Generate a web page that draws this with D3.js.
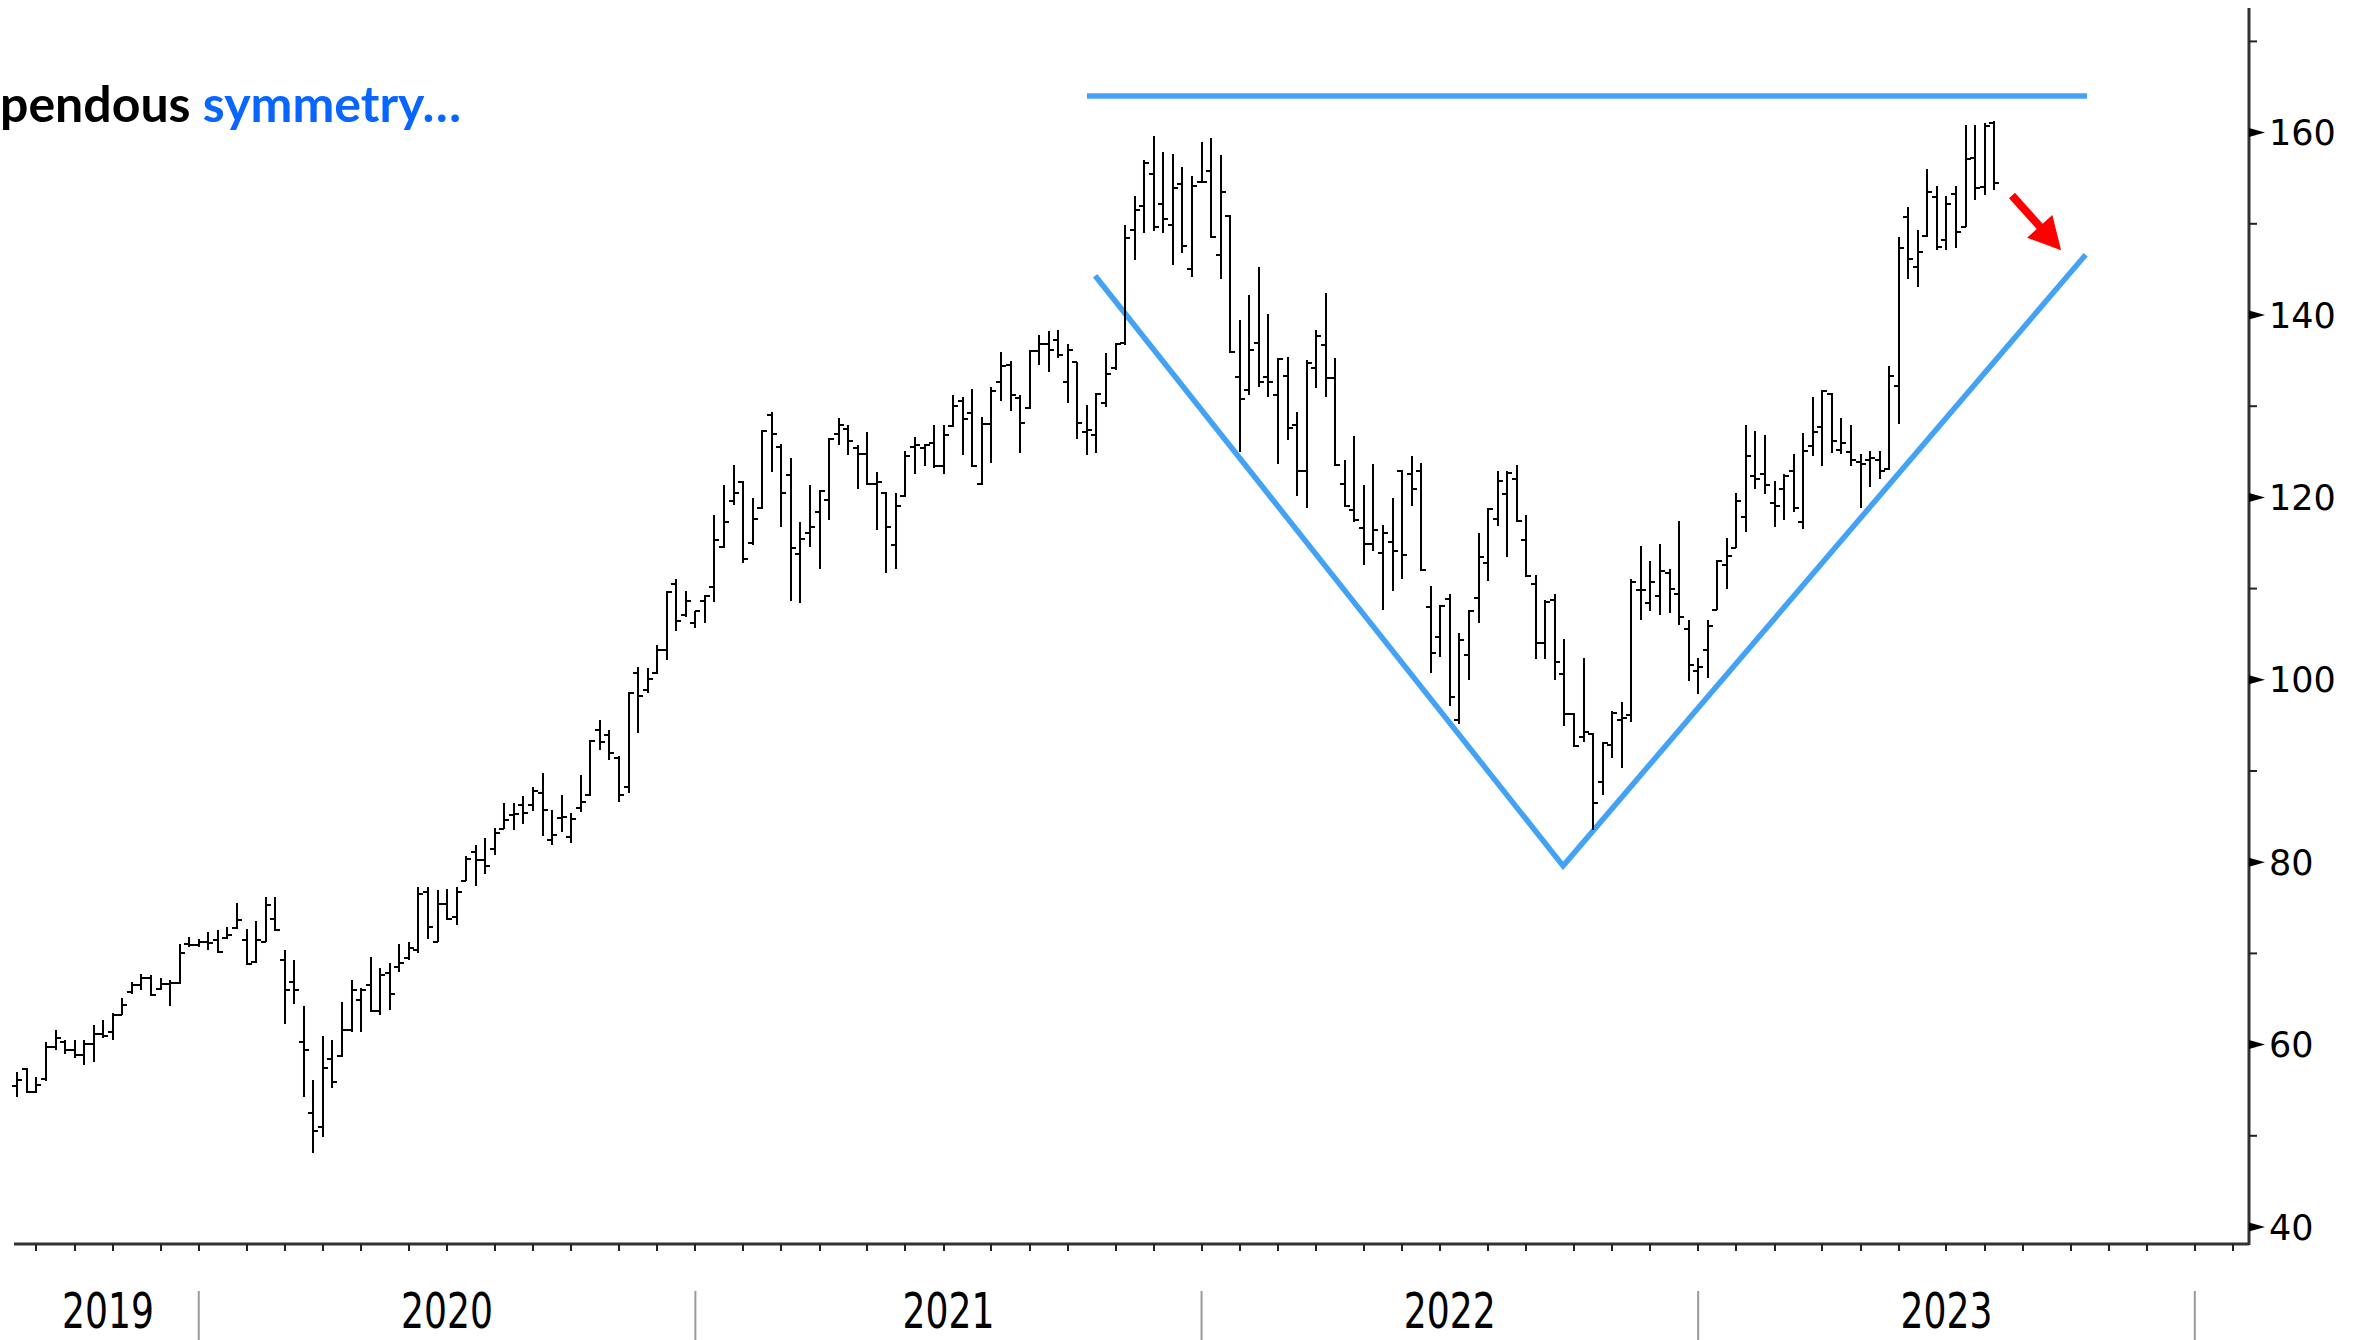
<!DOCTYPE html>
<html>
<head>
<meta charset="utf-8">
<script src="https://cdnjs.cloudflare.com/ajax/libs/d3/7.8.5/d3.min.js"></script>
<style>
  html, body { margin: 0; padding: 0; background: #fff; }
  svg { display: block; }
</style>
</head>
<body>
<div id="chart"></div>
<script>
"use strict";


// weekly bars, one per friday, starting here

const firstBar = "2019-08-23";

const open = [
    55.5,57.3,54.8,56.2,59.7,60.3,59.4,58.9,60.1,61.2,
    61.4,63.3,65.8,66.5,67.3,66.1,66.6,66.7,71.0,70.9,
    71.2,71.5,71.7,72.8,71.5,69.1,71.3,73.8,69.3,66.9,
    60.3,52.5,51.0,58.4,58.7,61.6,64.9,66.5,63.7,67.8,
    68.5,69.5,70.4,76.7,71.3,75.4,74.0,77.9,81.1,80.2,
    81.5,83.6,85.2,86.3,86.3,87.6,82.4,84.9,82.8,85.9,
    87.4,94.5,94.0,91.4,88.2,100.8,98.9,100.7,103.3,110.5,
    107.1,106.2,108.6,110.2,114.6,119.6,121.7,115.0,118.8,129.0,
    125.5,122.5,113.8,116.1,118.4,119.7,127.0,127.5,125.4,124.8,
    121.5,120.5,114.8,120.1,125.5,125.4,126.0,123.4,127.8,130.6,
    129.2,121.5,128.0,132.7,134.5,130.9,129.8,136.1,136.8,137.3,
    132.7,134.8,127.2,126.8,130.3,134.2,136.9,149.3,152.0,155.5,
    152.2,149.9,154.4,145.0,154.6,155.8,146.6,150.9,133.2,131.8,
    136.9,133.2,131.2,133.3,127.9,122.9,134.2,136.7,133.1,121.5,
    118.6,116.6,114.9,113.9,115.1,122.9,122.6,122.9,108.0,104.7,
    108.9,95.6,102.7,109.0,112.8,117.6,120.4,122.0,115.3,110.5,
    104.0,108.8,100.6,96.3,93.7,94.1,88.8,92.9,95.6,96.1,
    109.9,108.4,109.2,111.7,109.4,105.6,101.0,103.3,107.7,112.6,
    114.5,117.8,122.4,122.6,119.4,120.9,122.9,117.3,125.6,127.7,
    131.3,125.2,125.0,123.9,124.1,124.1,123.1,132.2,150.7,145.3,
    148.7,152.9,148.2,153.3,149.7,157.2,154.0,161.1
];

const high = [
    57.0,57.4,56.4,60.3,61.6,60.5,60.5,60.5,62.2,62.7,
    63.5,65.1,66.9,67.7,67.6,67.3,67.1,71.0,71.8,71.6,
    72.4,72.6,72.9,75.5,72.7,73.5,76.2,76.2,70.4,69.3,
    64.2,56.1,60.9,60.5,64.7,67.1,66.2,69.6,68.4,68.9,
    71.0,71.2,77.3,77.3,76.9,77.1,77.3,80.7,81.9,82.6,
    83.8,86.5,86.5,87.3,88.3,89.8,85.7,87.4,85.4,89.6,
    93.4,95.6,94.5,91.6,98.7,101.4,101.3,103.8,109.7,111.0,
    109.7,107.5,109.3,118.1,121.4,123.6,121.8,119.9,127.4,129.4,
    125.9,124.3,117.3,121.4,120.8,126.5,128.7,127.9,125.7,127.2,
    122.8,120.6,120.5,125.1,126.6,125.9,127.9,127.9,131.2,131.0,
    131.9,128.8,132.1,135.9,135.0,131.2,136.2,137.8,138.2,138.4,
    136.8,134.9,130.1,131.4,135.8,136.9,149.9,153.0,157.0,159.6,
    157.9,157.7,156.2,155.2,159.0,159.4,157.5,151.0,139.5,142.2,
    145.3,140.1,135.3,135.4,129.4,135.1,138.4,142.4,135.3,124.1,
    126.7,121.4,123.7,117.0,119.9,123.0,124.5,123.8,110.3,108.2,
    109.4,105.1,107.6,116.1,118.8,122.9,122.9,123.6,118.1,111.5,
    108.8,109.4,104.5,96.4,102.4,94.2,93.2,96.6,97.6,111.0,
    114.7,113.0,114.9,112.1,117.4,106.6,102.4,106.6,113.1,115.5,
    120.5,127.9,127.3,126.8,121.8,122.6,124.8,127.1,131.0,131.8,
    131.5,128.7,127.9,124.8,125.1,125.1,134.4,148.5,151.8,149.3,
    156.0,154.1,153.0,154.1,160.8,160.8,161.0,161.3
];

const low = [
    54.3,54.7,54.7,56.0,59.4,59.0,58.5,57.8,58.1,60.7,
    60.5,63.2,65.6,66.0,65.3,66.0,64.2,66.6,70.7,70.7,
    70.4,70.0,71.6,72.7,68.7,69.0,71.3,72.5,62.3,64.5,
    54.3,48.1,49.9,55.2,58.6,61.4,61.4,63.6,63.2,63.8,
    68.0,69.3,70.0,71.6,71.2,73.7,73.1,77.9,77.4,78.7,
    80.8,83.6,83.5,84.2,85.6,82.9,81.9,83.3,82.1,85.5,
    87.3,92.3,91.2,86.6,87.6,94.2,98.5,100.6,102.2,105.4,
    106.9,105.7,106.2,108.5,114.5,119.2,112.8,114.8,118.7,122.8,
    116.8,108.6,108.4,114.6,112.2,117.5,125.7,124.7,120.9,121.4,
    116.4,111.7,112.1,120.0,122.6,123.4,123.2,122.6,127.7,124.7,
    123.3,121.4,123.8,130.6,129.5,124.9,129.7,134.5,133.7,135.3,
    130.3,126.4,124.6,124.9,129.9,134.0,136.7,146.0,149.0,149.2,
    149.0,145.5,146.8,144.2,154.5,148.4,144.0,135.8,125.0,131.2,
    132.1,131.0,123.7,126.3,120.1,118.8,132.0,131.0,123.4,119.0,
    117.3,112.6,114.1,107.7,109.7,111.1,119.1,111.9,100.7,102.5,
    97.1,95.2,100.0,106.2,110.8,116.9,113.5,117.3,111.3,102.3,
    102.3,100.0,94.9,92.6,93.2,83.5,87.4,91.4,90.3,95.4,
    106.6,107.5,107.1,107.3,106.0,99.9,98.4,100.2,107.6,110.0,
    114.4,116.2,120.9,120.4,116.7,117.5,118.4,116.5,124.5,123.4,
    124.9,124.8,123.4,118.8,121.1,122.0,123.0,128.1,144.0,143.1,
    148.6,147.1,147.1,147.3,149.7,152.6,153.2,153.7
];

const close = [
    56.1,54.8,55.6,59.7,60.7,59.4,58.9,60.1,61.2,60.9,
    63.3,64.3,66.5,67.3,65.4,66.6,66.7,70.0,70.9,71.2,
    71.1,70.1,72.0,73.7,68.8,71.5,75.3,72.6,66.0,66.0,
    59.4,50.5,57.4,55.9,61.6,66.0,66.0,63.7,67.6,65.5,
    68.9,70.6,76.5,72.9,75.4,73.8,76.7,80.3,80.2,79.6,
    83.2,84.6,85.3,85.4,87.8,85.7,83.0,85.0,84.7,86.6,
    93.3,93.2,92.0,87.4,98.6,98.2,100.1,103.3,109.6,106.4,
    108.6,107.5,109.2,115.3,117.3,120.5,113.3,117.6,127.3,127.0,
    120.5,114.4,115.4,116.8,120.7,126.4,127.9,126.2,124.8,121.5,
    121.7,116.7,119.1,124.5,125.7,125.7,123.4,126.8,130.0,128.6,
    123.4,128.0,131.7,134.4,131.2,128.2,136.1,136.8,136.2,135.6,
    136.2,128.2,127.4,131.3,133.5,136.8,148.4,151.5,156.7,149.7,
    150.5,153.9,147.6,154.1,154.6,148.5,153.5,135.9,130.8,136.2,
    132.7,132.7,135.2,127.6,122.9,134.7,137.7,133.1,123.5,119.1,
    117.5,114.9,116.4,116.1,114.1,113.7,120.9,112.0,102.9,108.1,
    98.1,104.4,107.5,113.5,118.7,121.8,122.7,117.4,111.4,104.0,
    108.5,101.9,96.3,92.7,94.3,86.5,93.1,96.4,95.8,110.7,
    109.9,110.7,111.9,110.0,106.9,101.6,101.4,105.9,113.0,113.6,
    119.6,124.5,122.0,121.4,119.1,122.4,118.8,125.1,127.2,131.7,
    126.2,126.0,124.1,123.7,124.3,122.9,133.3,147.4,146.1,146.9,
    153.5,147.5,152.2,149.1,157.1,153.9,160.7,154.5
];


// hand drawn lines on top of the chart: [date, price]

const topLine = [["2021-10-15", 164.0], ["2023-10-18", 164.0]];

const vLine = [["2021-10-21", 144.3], ["2022-09-29", 79.6], ["2023-10-17", 146.6]];

const arrow = [["2023-08-24", 153.1], ["2023-09-29", 147.1]];


const yTicks = [40, 60, 80, 100, 120, 140, 160];

const yMinor = [50, 70, 90, 110, 130, 150, 170];

const years = [2019, 2020, 2021, 2022, 2023];

const title = ["pendous ", "symmetry\u2026"];


function draw() {

    const width = 2362;
    const height = 1340;
    const axisX = 2249;   // right axis line
    const axisY = 1244;   // bottom axis line

    const parse = d3.timeParse("%Y-%m-%d");
    const start = parse(firstBar);
    const dates = open.map((c, i) => d3.timeWeek.offset(start, i));

    const x = d3.scaleTime()
        .domain([start, parse("2024-02-02")])
        .range([17.3, 2233]);

    const y = d3.scaleLinear()
        .domain([40, 160])
        .range([1227, 132.6]);

    const svg = d3.select("#chart").append("svg")
        .attr("width", width)
        .attr("height", height);

    // title, left part is cut off in the original
    const t = svg.append("text")
        .attr("x", 0)
        .attr("y", 122)
        .style("font-family", "Lato, 'Open Sans', sans-serif")
        .style("font-weight", 700)
        .style("font-size", "50px");

    t.append("tspan").attr("fill", "#000").text(title[0]);
    t.append("tspan").attr("fill", "#0866ff").text(title[1]);

    // trend lines
    const line = d3.line()
        .x(d => x(parse(d[0])))
        .y(d => y(d[1]));

    svg.append("g")
        .attr("fill", "none")
        .attr("stroke", "#44a2f5")
        .attr("stroke-width", 5.5)
        .attr("stroke-linejoin", "miter")
    .selectAll("path")
    .data([topLine, vLine])
    .join("path")
        .attr("d", line);

    // red arrow
    const a0 = [x(parse(arrow[0][0])), y(arrow[0][1])];
    const a1 = [x(parse(arrow[1][0])), y(arrow[1][1])];
    const len = Math.hypot(a1[0] - a0[0], a1[1] - a0[1]);
    const ux = (a1[0] - a0[0]) / len;
    const uy = (a1[1] - a0[1]) / len;
    const head = 32, half = 17;
    const b = [a1[0] - ux * head, a1[1] - uy * head];

    svg.append("line")
        .attr("x1", a0[0]).attr("y1", a0[1])
        .attr("x2", b[0] + ux * 4).attr("y2", b[1] + uy * 4)
        .attr("stroke", "#ff0000")
        .attr("stroke-width", 8);

    svg.append("path")
        .attr("fill", "#ff0000")
        .attr("d", `M${a1[0]},${a1[1]}L${b[0] - uy * half},${b[1] + ux * half}L${b[0] + uy * half},${b[1] - ux * half}Z`);

    // ohlc bars
    const bar = svg.append("g")
        .attr("stroke", "#000")
        .attr("stroke-width", 2)
        .attr("shape-rendering", "crispEdges")
    .selectAll("g")
    .data(dates.map((d, i) => ({d: d, o: open[i], h: high[i], l: low[i], c: close[i]})))
    .join("g")
        .attr("transform", d => `translate(${Math.round(x(d.d))},0)`);

    bar.append("line")
        .attr("y1", d => y(d.h))
        .attr("y2", d => y(d.l));

    bar.append("line")
        .attr("x1", -5).attr("x2", 0)
        .attr("y1", d => y(d.o))
        .attr("y2", d => y(d.o));

    bar.append("line")
        .attr("x1", 0).attr("x2", 5)
        .attr("y1", d => y(d.c))
        .attr("y2", d => y(d.c));

    // bottom axis with monthly ticks at the first bar of each month
    svg.append("line")
        .attr("x1", 14).attr("x2", axisX)
        .attr("y1", axisY).attr("y2", axisY)
        .attr("stroke", "#333")
        .attr("stroke-width", 3);

    const months = d3.timeFriday.range(start, d3.timeDay.offset(x.domain()[1], 1))
        .filter(d => d.getDate() <= 7);

    svg.append("g")
        .attr("stroke", "#222")
        .attr("stroke-width", 2)
    .selectAll("line")
    .data(months)
    .join("line")
        .attr("x1", d => Math.round(x(d))).attr("x2", d => Math.round(x(d)))
        .attr("y1", axisY).attr("y2", axisY + 7);

    // year separators and labels
    const seps = years.slice(1).concat([2024]).map(yr => d3.timeFriday.ceil(new Date(yr, 0, 1)));

    svg.append("g")
        .attr("stroke", "#9a9a9a")
        .attr("stroke-width", 2)
    .selectAll("line")
    .data(seps)
    .join("line")
        .attr("x1", d => x(d)).attr("x2", d => x(d))
        .attr("y1", 1291).attr("y2", height);

    svg.append("g")
        .style("font-family", "'DejaVu Sans', sans-serif")
        .style("font-size", "49px")
    .selectAll("text")
    .data(years)
    .join("text")
        .attr("x", (d, i) => ((i === 0 ? x(start) : x(seps[i - 1])) + x(seps[i])) / 2)
        .attr("y", 1328)
        .attr("text-anchor", "middle")
        .attr("textLength", 92)
        .attr("lengthAdjust", "spacingAndGlyphs")
        .text(d => d);

    // right axis
    svg.append("line")
        .attr("x1", axisX).attr("x2", axisX)
        .attr("y1", 8).attr("y2", axisY + 1)
        .attr("stroke", "#333")
        .attr("stroke-width", 3);

    svg.append("g")
        .attr("stroke", "#222")
        .attr("stroke-width", 2)
    .selectAll("line")
    .data(yMinor)
    .join("line")
        .attr("x1", axisX).attr("x2", axisX + 8)
        .attr("y1", d => y(d)).attr("y2", d => y(d));

    svg.append("g")
        .attr("fill", "#000")
    .selectAll("path")
    .data(yTicks)
    .join("path")
        .attr("d", d => `M${axisX},${y(d) - 4.5}L${axisX + 16},${y(d)}L${axisX},${y(d) + 4.5}Z`);

    svg.append("g")
        .style("font-family", "'DejaVu Sans', Verdana, sans-serif")
        .style("font-size", "35px")
    .selectAll("text")
    .data(yTicks)
    .join("text")
        .attr("x", axisX + 20)
        .attr("y", d => y(d))
        .attr("dy", "0.36em")
        .text(d => d);
}

draw();
</script>
</body>
</html>
